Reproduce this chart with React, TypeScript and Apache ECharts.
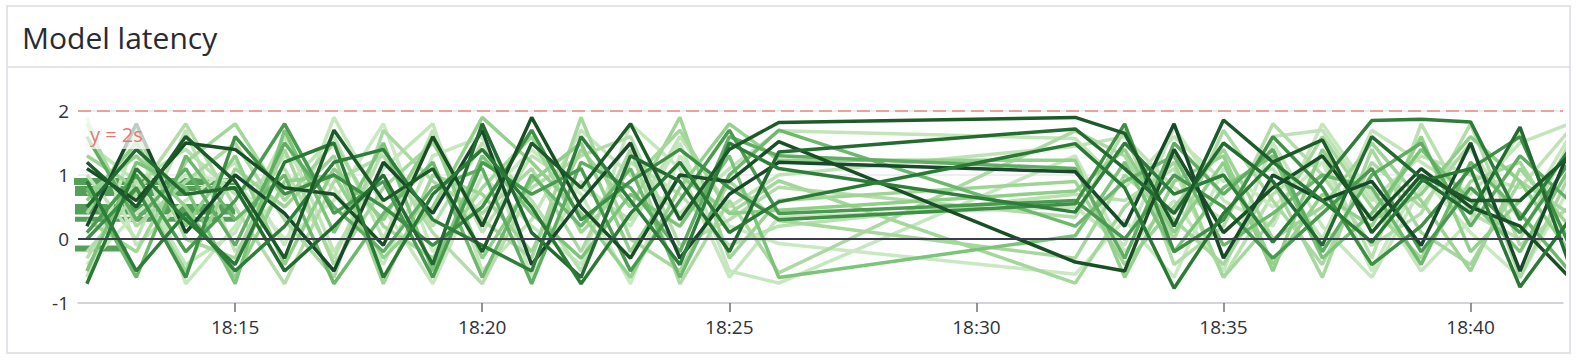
import React, { useEffect, useRef } from "react";
import * as echarts from "echarts";

const TITLE = "Model latency";
const THRESHOLD_LABEL = "y = 2s";

// minutes after 18:00 at which each sample was taken
const minutes = [12, 13, 14, 15, 16, 17, 18, 19, 20, 21, 22, 23, 24, 25, 26, 32, 33, 34, 35, 36, 37, 38, 39, 40, 41, 42];
const xTickMinutes = [15, 20, 25, 30, 35, 40];
const yTicks = [-1, 0, 1, 2];
const X_MIN = 11.82;
const X_MAX = 41.87;
const THRESHOLD = 2;

const s0 = [1.2, 0.5, 1.6, 0.9, -0.3, 1.7, 0.6, 1.1, -0.2, 1.5, 0.8, 1.8, 0.3, 1.4, 1.82, 1.9, 1.65, 0.2, 1.86, 1.2, 1.55, 0.1, 1.0, 0.6, 0.6, 1.3];
const s1 = [0.5, 1.4, 0.7, 0.8, -0.5, 0.2, 1.0, -0.4, 1.8, 0.1, -0.6, 1.3, 0.9, -0.2, 1.36, 1.72, 1.1, 0.4, 1.5, 0.9, -0.1, 1.6, 0.95, 0.4, 1.75, -0.4];
const s2 = [-0.7, 1.1, 0.3, -0.4, 1.2, 1.5, -0.6, 0.7, 1.4, 0.5, -0.7, 0.4, 1.2, 0.1, 0.58, 1.49, 0.8, -0.77, 0.4, 1.2, 0.6, -0.05, 0.9, 1.1, -0.75, 0.3];
const s3 = [1.1, 0.6, 1.5, 1.4, 0.8, 0.7, -0.1, 1.6, 0.2, 1.9, 0.5, -0.3, 1.0, 0.9, 1.52, -0.36, -0.5, 1.4, 0.1, 0.8, 1.3, 0.3, 1.1, 0.5, 0.2, -0.6];
const s4 = [0.9, -0.5, 0.4, -0.5, 0.2, 1.2, 1.4, 0.3, -0.1, -0.5, 1.6, 0.6, -0.4, 1.5, 1.1, 0.42, 1.5, 0.7, 1.0, -0.05, 0.9, 1.85, 1.87, 1.83, 0.3, 1.4];
const s5 = [0.1, 1.0, -0.2, 0.6, 1.8, 0.4, 0.9, -0.6, 1.2, 0.7, 1.1, -0.5, 0.6, 1.7, 0.4, 0.6, 0.0, 1.0, 0.5, -0.3, 0.4, 1.1, -0.2, 0.8, 0.1, 1.2];
const s6 = [1.8, 0.2, 0.9, 1.5, 0.3, -0.6, 1.7, 0.9, 0.4, 1.1, -0.2, 1.4, -0.7, 0.6, -0.53, 1.69, 1.3, 0.0, 1.7, 0.6, -0.4, 1.2, 0.5, 1.5, -0.6, 1.0];
const s7 = [-0.6, 1.6, -0.7, 0.2, 1.3, 0.8, -0.4, 1.3, 1.6, -0.6, 0.9, 0.2, 1.5, -0.5, -0.69, 1.3, -0.2, 0.6, -0.5, 1.5, 0.2, -0.6, 0.8, 1.4, 0.3, 1.6];
const s8 = [0.3, -0.2, 1.2, 1.8, 0.6, 1.5, 0.2, -0.3, 0.8, 1.6, 0.1, 0.9, 1.7, 0.4, 0.91, -0.69, 0.5, 1.2, -0.6, 0.3, 1.6, 0.5, -0.3, 0.9, 1.2, 0.0];
const s9 = [1.5, 0.9, -0.4, 0.1, 1.6, -0.2, 1.1, 1.8, -0.5, 0.3, 1.7, 1.0, 0.4, 1.1, 1.69, 1.57, 0.8, 1.6, 0.9, 1.1, 0.0, 1.7, 1.2, 0.7, 1.5, 1.8];
const s10 = [0.7, 1.3, 0.5, -0.6, 0.9, 1.0, -0.3, 0.5, 1.9, 1.2, 0.4, -0.6, 0.8, 1.8, 1.23, 1.23, -0.6, 0.9, 1.3, -0.4, 0.7, 0.2, 1.6, -0.2, 0.6, 1.3];
const s11 = [-0.2, 0.7, 1.8, 0.5, -0.7, 0.9, 1.3, 0.1, -0.7, 0.8, 1.3, 1.6, -0.1, 0.3, 0.81, 0.34, 1.7, -0.4, 0.2, 1.8, 1.0, -0.1, 0.4, 1.8, -0.1, 0.5];
const s12 = [1.9, -0.1, 0.6, 1.2, -0.1, 1.9, 0.5, -0.7, 1.0, 0.2, -0.4, 1.8, 1.1, -0.6, 0.34, 0.5, -0.1, 1.75, 0.6, 0.2, 1.8, 0.7, -0.5, 0.3, 1.7, -0.3];
const s13 = [0.4, 1.7, 0.0, -0.3, 1.4, -0.4, 0.8, 1.5, 0.3, -0.3, 1.9, 0.0, -0.5, 0.9, 0.29, -0.3, 1.0, 0.3, -0.4, 0.9, -0.6, 1.4, 0.1, -0.4, 0.9, 0.4];
const s14 = [-0.4, 0.4, 1.0, 0.9, 0.0, 0.6, 1.8, -0.2, 0.6, 1.4, 0.7, -0.7, 1.3, 0.2, -0.07, -0.55, 0.3, -0.6, 1.1, 0.5, 1.2, -0.5, 1.0, 0.1, -0.6, 0.8];
const s15 = [0.8, -0.6, 1.3, 0.3, 1.0, -0.7, 0.4, 1.2, -0.6, 1.0, 0.2, 1.1, -0.6, 1.0, 1.7, 0.2, 0.9, 1.3, -0.1, 0.4, 1.0, 0.8, -0.4, 1.2, 0.4, -0.5];
const s16 = [1.3, 0.8, -0.5, 1.1, 0.5, 1.3, -0.7, 1.0, 0.7, -0.2, 1.4, 0.5, 1.9, -0.3, 0.6, 0.9, -0.4, 0.5, 1.4, 0.0, 0.5, 1.5, 0.6, -0.5, 1.1, 0.2];
const s17 = [-0.5, 1.2, 0.8, -0.7, 1.7, 0.1, 1.5, -0.5, 1.3, 0.4, -0.3, 0.7, 0.2, 1.3, -0.6, 0.05, 1.2, -0.2, 0.8, 1.3, -0.3, 0.4, 1.4, 0.6, -0.2, 1.1];
const s18 = [0.2, 1.8, 0.1, 1.0, 0.4, -0.5, 1.2, 0.4, 1.7, -0.4, 0.6, 1.5, -0.3, 0.7, 1.2, 1.05, 0.2, 1.8, -0.3, 1.0, 0.6, 0.9, -0.1, 1.5, -0.5, 1.4];
const s19 = [1.0, 0.0, 1.7, -0.2, 0.8, 1.6, 0.0, 1.7, 0.1, 1.3, 0.8, 0.3, 1.6, 0.5, 1.0, 1.45, 1.6, 0.8, 0.3, 1.6, 1.7, 0.6, 1.3, 1.0, 0.8, 1.7];
const s20 = [0.6, 1.5, 0.2, 1.3, -0.4, 1.1, 0.3, 1.6, -0.3, 0.9, 1.5, -0.2, 1.0, 0.4, 0.45, 0.75, 1.4, 0.1, 1.2, -0.5, 1.4, 0.3, 0.7, 1.6, 0.9, -0.2];
const s21 = [1.6, 0.3, 1.1, -0.1, 1.5, 0.5, -0.2, 0.8, 1.1, -0.7, 1.2, 0.8, -0.2, 1.6, 1.3, 1.1, -0.3, 1.5, 0.7, 1.4, -0.2, 1.0, 1.5, 0.2, 1.3, 0.6];
const s22 = [-0.3, 0.9, 1.4, 0.7, 1.1, -0.3, 1.4, 0.2, 1.5, 0.6, -0.5, 1.2, 0.7, -0.1, 0.2, 0.7, 0.6, 1.1, -0.6, 0.7, 1.3, -0.3, 1.8, 0.4, 0.0, 1.5];
const s23 = [0.0, 0.8, -0.6, 1.6, 0.7, 1.0, 0.5, -0.1, 0.5, 1.7, 0.3, 0.9, 1.4, 0.8, 0.3, 0.55, 1.8, -0.2, 0.3, 1.6, 0.8, -0.4, 0.2, 1.1, 1.6, -0.1];

// drawing order: lighter first, darker later
const seriesValues = [s12, s19, s9, s22, s7, s14, s11, s6, s13, s16, s8, s20, s10, s17, s15, s21, s5, s23, s3, s18, s1, s2, s4, s0];
const seriesColors = [
  "#c6e6bd", "#bfe3b6", "#c2e5b9", "#b9e1b0", "#c5e7bd", "#c9e9c1", "#b3dcaa", "#acd9a3", "#a6d79e", "#9ed596",
  "#a3d89b", "#8fcf88", "#94d18d", "#7cc479", "#6db86d", "#62ad64", "#4a9a50", "#3f8f46", "#1a4f25", "#17492a",
  "#236b30", "#2a7a36", "#2e7d3a", "#1d5a2a",
];

// flat bands at the left edge: level and the minute at which each ends
const bandLevels = [0.9, 0.79, 0.71, 0.5, 0.42, 0.31, -0.15];
const bandEnds = [15, 15, 14, 15, 15, 15, 12.8];
const bandWidths = [7, 5, 5, 6, 5, 5, 6];

const fmtMinute = (v: number) => `18:${String(Math.round(v)).padStart(2, "0")}`;

export default function App() {
  const ref = useRef<HTMLDivElement>(null);

  useEffect(() => {
    if (!ref.current) return;
    const chart = echarts.init(ref.current, null, { renderer: "svg" });
    const font = "'Open Sans', 'Noto Sans', sans-serif";

    const lineSeries = seriesValues.map((vals, k) => ({
      type: "line",
      name: `model-${k + 1}`,
      data: minutes.map((m, i) => [m, vals[i]]),
      symbol: "none",
      silent: true,
      lineStyle: { width: 3.5, color: seriesColors[k] },
      itemStyle: { color: seriesColors[k] },
      z: 2,
    }));

    const bandSeries = bandLevels.map((v, k) => ({
      type: "line",
      name: `band-${k + 1}`,
      data: [
        [11.5, v],
        [bandEnds[k], v],
      ],
      symbol: "none",
      silent: true,
      lineStyle: { width: bandWidths[k], color: "#559f5b" },
      z: 2,
    }));

    const markerSeries = {
      type: "line",
      name: "markers",
      data: [[X_MIN, 0]],
      symbol: "none",
      silent: true,
      lineStyle: { opacity: 0 },
      z: 5,
      markLine: {
        silent: true,
        symbol: ["none", "none"],
        animation: false,
        data: [
          {
            yAxis: 0,
            lineStyle: { color: "#3b3c4b", width: 2, type: "solid" },
            label: { show: false },
          },
          {
            yAxis: THRESHOLD,
            lineStyle: { color: "#e8a2a2", width: 2, type: [13, 6] },
            label: {
              show: true,
              position: "insideStartBottom",
              formatter: THRESHOLD_LABEL,
              color: "#e27979",
              fontSize: 20,
              fontFamily: font,
              backgroundColor: "rgba(255,255,255,0.72)",
              padding: [10, 14, 5, 10],
              distance: [2, 3],
            },
          },
        ],
      },
    };

    chart.setOption({
      animation: false,
      backgroundColor: "#ffffff",
      title: {
        text: TITLE,
        left: 17,
        top: 17,
        textStyle: { fontSize: 30, fontWeight: "normal", color: "#262b31", fontFamily: font },
      },
      graphic: [
        {
          type: "rect",
          shape: { x: 7, y: 6, width: 1563, height: 347 },
          style: { fill: "none", stroke: "#e3e4e9", lineWidth: 2 },
          silent: true,
          z: 0,
        },
        {
          type: "line",
          shape: { x1: 7, y1: 67, x2: 1570, y2: 67 },
          style: { stroke: "#e3e4e9", lineWidth: 2 },
          silent: true,
          z: 0,
        },
      ],
      grid: { left: 78, right: 13, top: 111, bottom: 59, containLabel: false },
      xAxis: {
        type: "value",
        min: X_MIN,
        max: X_MAX,
        splitLine: { show: false },
        axisLine: { show: true, onZero: false, lineStyle: { color: "#c9cad1", width: 1.5 } },
        axisTick: { show: true, customValues: xTickMinutes, length: 9, lineStyle: { color: "#6e707a", width: 1.5 } },
        axisLabel: {
          customValues: xTickMinutes,
          formatter: (v: number) => fmtMinute(v),
          fontSize: 19,
          color: "#2e3238",
          fontFamily: font,
          margin: 14,
        },
      },
      yAxis: {
        type: "value",
        min: -1,
        max: 2,
        interval: 1,
        axisLine: { show: false },
        axisTick: { show: false },
        splitLine: { show: true, lineStyle: { color: "#e9e9ec", width: 1.5 } },
        axisLabel: {
          customValues: yTicks,
          fontSize: 19,
          color: "#2e3238",
          fontFamily: font,
          margin: 9,
        },
      },
      series: [...bandSeries, ...lineSeries, markerSeries],
    });

    return () => chart.dispose();
  }, []);

  return (
    <div
      ref={ref}
      style={{ position: "fixed", left: 0, top: 0, width: 1576, height: 362, background: "#ffffff" }}
    />
  );
}
